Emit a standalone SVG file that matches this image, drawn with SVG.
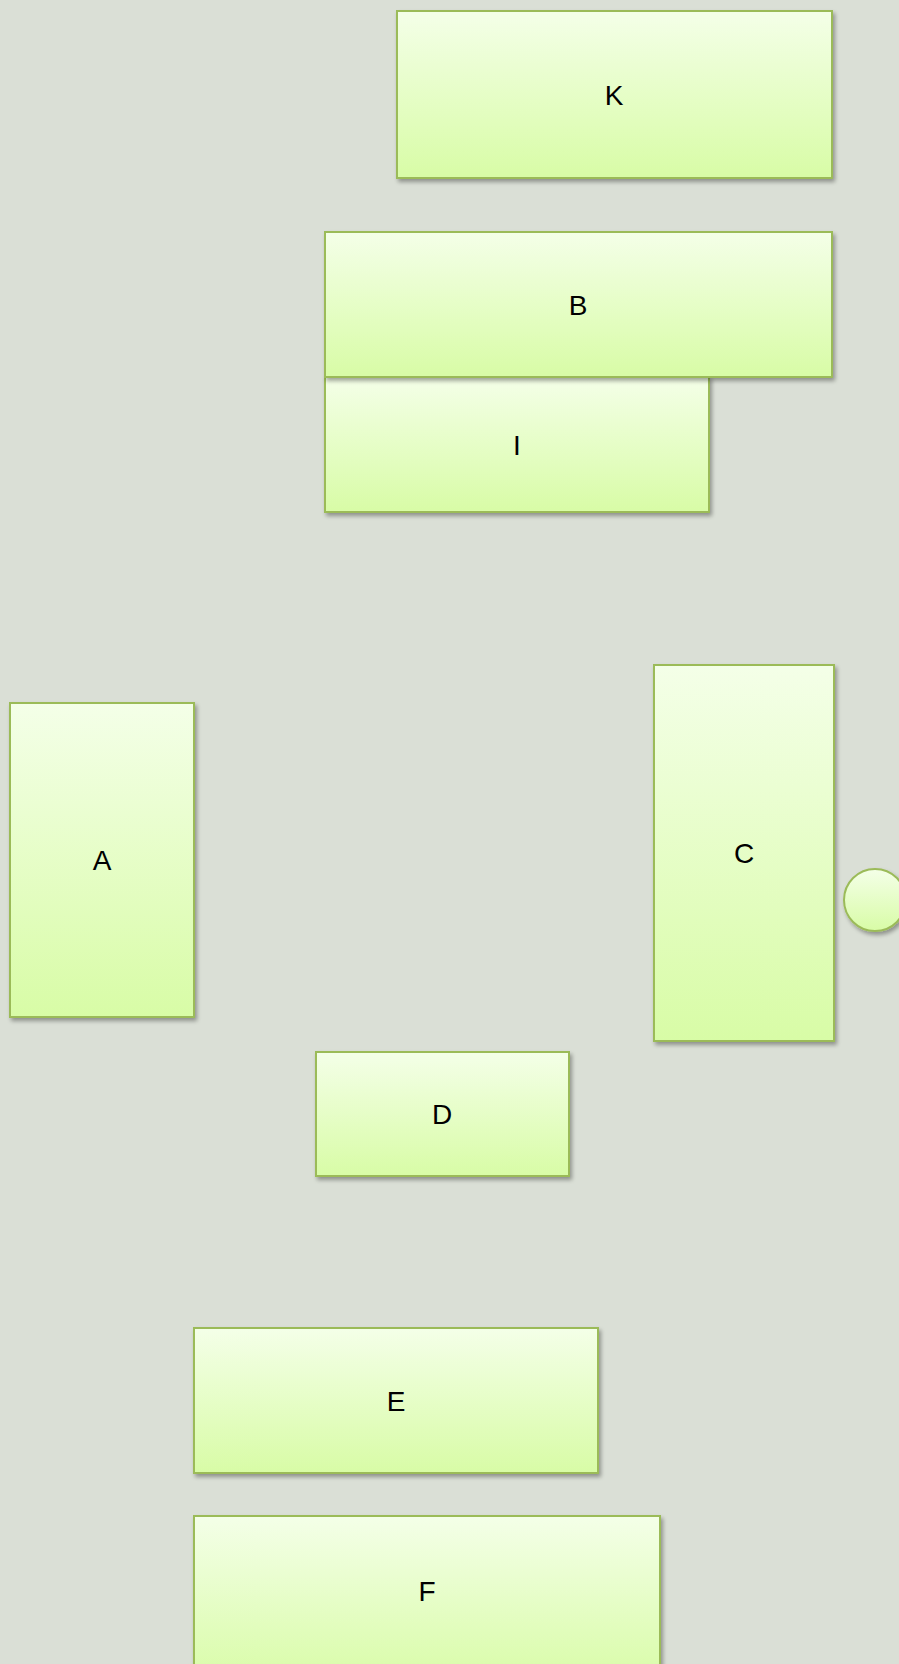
<svg xmlns="http://www.w3.org/2000/svg" width="899" height="1664" viewBox="0 0 899 1664">
<style>
.n{fill:url(#g);stroke:#9bbb59;stroke-width:2;filter:url(#s)}
.t{font-family:"Liberation Sans",Arial,sans-serif;font-size:28px;fill:#000;text-anchor:middle;dominant-baseline:central}
</style>
<defs>
<linearGradient id="g" x1="0" y1="0" x2="0" y2="1">
<stop offset="0" stop-color="#f4ffe8"/>
<stop offset="1" stop-color="#d8fca6"/>
</linearGradient>
<filter id="s" x="-10%" y="-10%" width="130%" height="130%">
<feGaussianBlur in="SourceAlpha" stdDeviation="2"/>
<feOffset dx="2" dy="3" result="b"/>
<feComponentTransfer><feFuncA type="linear" slope="0.35"/></feComponentTransfer>
<feMerge><feMergeNode/><feMergeNode in="SourceGraphic"/></feMerge>
</filter>
</defs>
<rect width="899" height="1664" fill="#dadfd6"/>
<g id="connectors"></g>
<g id="K"><rect class="n" x="397" y="11" width="435" height="167"/><text class="t" x="614" y="95">K</text></g>
<g id="I"><rect class="n" x="325" y="377" width="384" height="135"/><text class="t" x="517" y="445">I</text></g>
<g id="B"><rect class="n" x="325" y="232" width="507" height="145"/><text class="t" x="578" y="305">B</text></g>
<g id="C"><rect class="n" x="654" y="665" width="180" height="376"/><text class="t" x="744" y="853">C</text></g>
<g id="circle"><circle class="n" cx="875" cy="900" r="31"/></g>
<g id="A"><rect class="n" x="10" y="703" width="184" height="314"/><text class="t" x="102" y="860">A</text></g>
<g id="D"><rect class="n" x="316" y="1052" width="253" height="124"/><text class="t" x="442" y="1114">D</text></g>
<g id="E"><rect class="n" x="194" y="1328" width="404" height="145"/><text class="t" x="396" y="1401">E</text></g>
<g id="F"><rect class="n" x="194" y="1516" width="466" height="170"/><text class="t" x="427" y="1591">F</text></g>
</svg>
